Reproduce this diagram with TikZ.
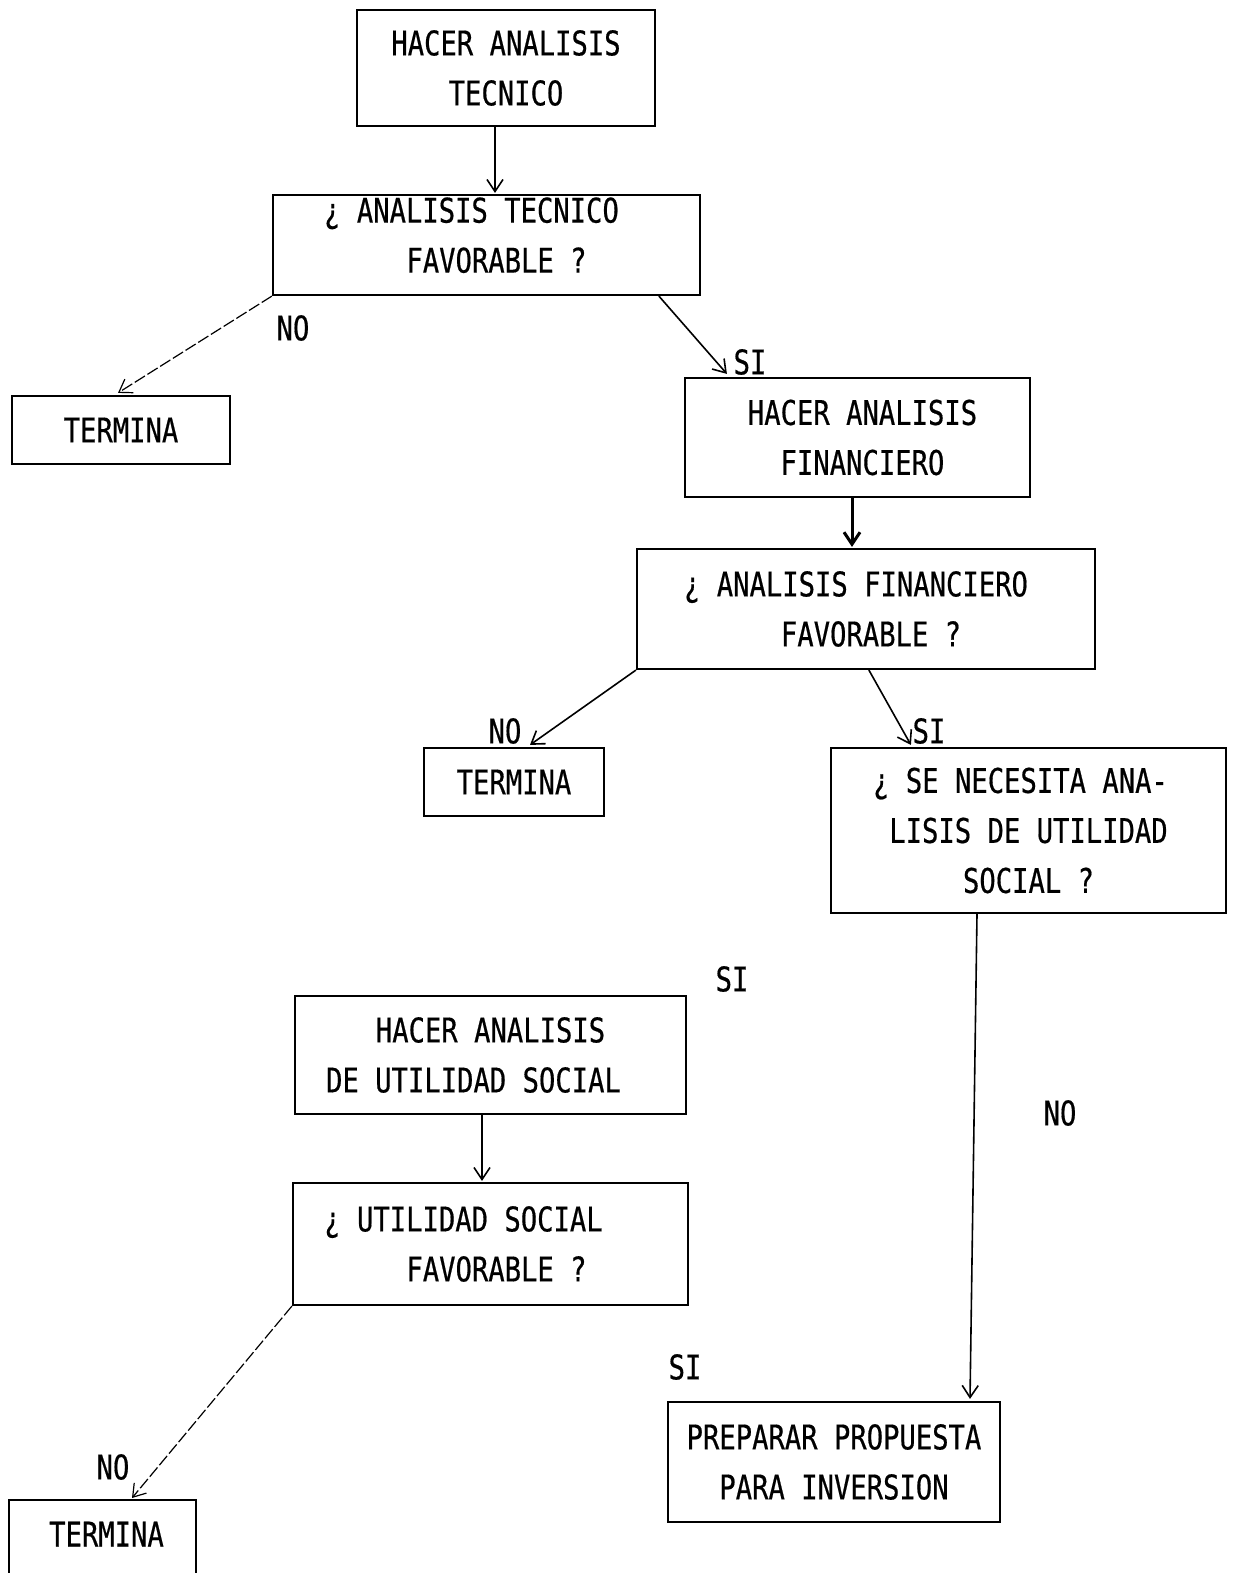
\documentclass[tikz,border=0pt]{standalone}
\usepackage{fontspec}
\newfontfamily\tw[FakeStretch=0.8,FakeBold=0.5]{DejaVu Sans Mono}
\usetikzlibrary{arrows.meta,calc}
\begin{document}
\begin{tikzpicture}[x=0.5pt,y=-0.5pt,
  txt/.style={font=\tw\fontsize{17}{25}\selectfont},
  box/.style={txt, draw, line width=1.1pt, rectangle, inner sep=0pt, align=center},
  lbl/.style={txt, inner sep=0pt},
  arr/.style={-{Straight Barb[length=6pt,width=8pt]}, line width=0.8pt},
  faint/.style={arr, line width=0.6pt, dash pattern=on 6pt off 1.5pt}]
\useasboundingbox (0,0) rectangle (1233,1573);
\clip (0,0) rectangle (1233,1573);

% process and decision boxes
\node[box, minimum width=149pt, minimum height=58pt] (b1) at (506,68)
  {HACER ANALISIS\\TECNICO};
\node[box, minimum width=213.5pt, minimum height=50pt] (b2) at (486.5,245)
  {¿ ANALISIS TECNICO\hspace*{15pt}\\\hspace*{10pt}FAVORABLE ?\\[-15pt]\mbox{}};
\node[box, minimum width=109pt, minimum height=34pt] (t1) at (121,430) {TERMINA};
\node[box, minimum width=172.5pt, minimum height=59.5pt] (b4) at (857.5,437.5)
  {\hspace*{5pt}HACER ANALISIS\\\hspace*{5pt}FINANCIERO};
\node[box, minimum width=229pt, minimum height=60pt] (b5) at (866,609)
  {¿ ANALISIS FINANCIERO\hspace*{10pt}\\\hspace*{5pt}FAVORABLE ?};
\node[box, minimum width=90pt, minimum height=34pt] (t2) at (514,782) {TERMINA};
\node[box, minimum width=197.5pt, minimum height=82.5pt] (b7) at (1028.5,830.5)
  {¿ SE NECESITA ANA-\hspace*{8pt}\\LISIS DE UTILIDAD\hspace*{8pt}\\SOCIAL ?};
\node[box, minimum width=195.5pt, minimum height=59pt] (b8) at (490.5,1055)
  {HACER ANALISIS\\DE UTILIDAD SOCIAL\hspace*{17pt}};
\node[box, minimum width=197.5pt, minimum height=61pt] (b9) at (490.5,1244)
  {¿ UTILIDAD SOCIAL\hspace*{27pt}\\\hspace*{6pt}FAVORABLE ?};
\node[box, minimum width=166pt, minimum height=60pt] (b11) at (834,1462)
  {PREPARAR PROPUESTA\\PARA INVERSION};
% end box running off the lower edge
\node[box, draw=none, minimum width=92.5pt, minimum height=33pt, anchor=north] (t3)
  at (102.5,1500) {\hspace*{4pt}TERMINA};
\draw[line width=1.1pt] ($(t3.south west)+(0,40)$) -- (t3.north west)
  -- (t3.north east) -- ($(t3.south east)+(0,40)$);

% branch labels
\node[lbl] (n1) at (293,328) {NO};
\node[lbl] (s1) at (750,362) {SI};
\node[lbl] (n2) at (505,731) {NO};
\node[lbl] (s2) at (929,731) {SI};
\node[lbl] (s3) at (732,979) {SI};
\node[lbl] (n3) at (1060,1113) {NO};
\node[lbl] (s4) at (685,1367) {SI};
\node[lbl] (n4) at (113,1467) {NO};

% connectors
\draw[arr] ($(b1.south)+(-11,0)$) -- ($(b2.north)+(8.5,-1)$);
\draw[faint] (b2.south west) -- ($(t1.north)+(-3,-2)$);
\draw[arr] ($(b2.south west)+(387,0)$) -- ($(b4.north west)+(43,-3)$);
\draw[arr, line width=1.5pt] ($(b4.south)+(-5.5,0)$) -- ($(b5.north)+(-14,-1)$);
\draw[arr] (b5.south west) -- ($(t2.north)+(16,-2)$);
\draw[arr] ($(b5.south west)+(233,0)$) -- ($(b7.north west)+(81,-2)$);
\draw[arr] ($(b7.south)+(-51.5,0)$) -- ($(b11.north)+(136,-2)$);
\draw[arr] ($(b8.south)+(-8.5,0)$) -- ($(b9.north)+(-8.5,-1)$);
\draw[faint] (b9.south west) -- ($(t3.north)+(29.5,-2)$);
\end{tikzpicture}
\end{document}
